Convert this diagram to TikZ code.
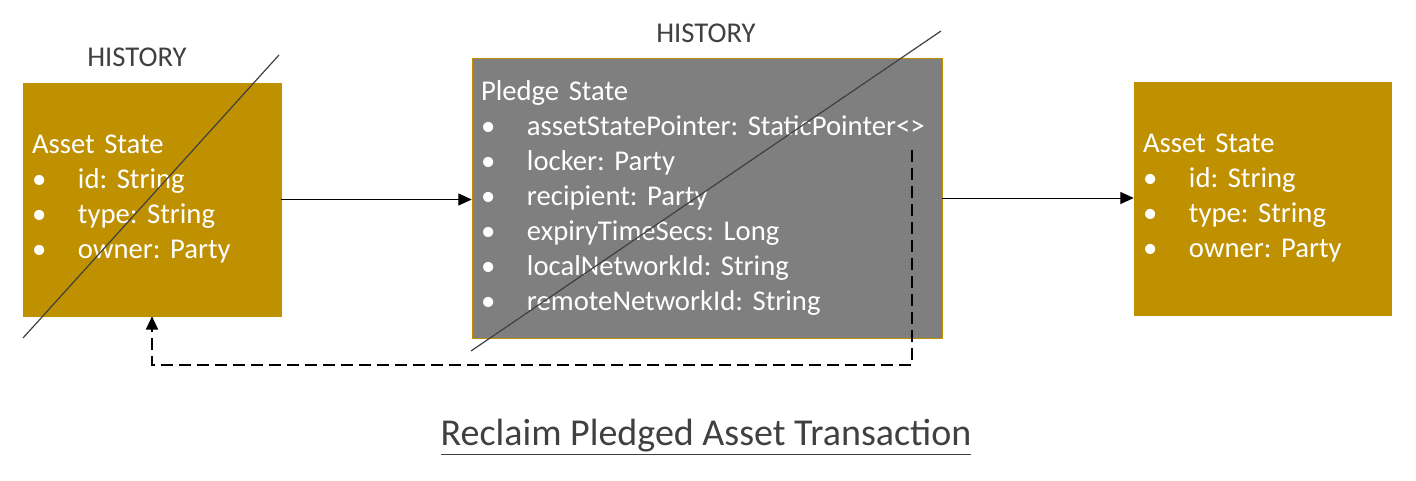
\documentclass[tikz,border=0pt]{standalone}
\usepackage{fontspec}
\setmainfont{Carlito}
\usepackage{xcolor}
\usetikzlibrary{arrows.meta,positioning}
\definecolor{gold}{HTML}{BF9000}
\definecolor{slate}{HTML}{7F7F7F}
\definecolor{inkgray}{HTML}{404040}
\frenchspacing
\newcommand{\itm}[1]{\makebox[34.5pt][l]{\textbullet}#1}
\tikzset{
  statebox/.style={rectangle, draw=gold, fill=gold, text=white, align=left,
    inner xsep=6.75pt, inner ysep=0pt, font=\fontsize{21.5}{26.25}\selectfont},
  histlabel/.style={text=inkgray, inner sep=0.75pt, font=\fontsize{21.5}{24}\selectfont},
  strike/.style={draw=inkgray, line width=0.9pt},
  flow/.style={draw=black, line width=0.75pt, -{Triangle[length=10pt,width=9pt]}},
  backflow/.style={draw=black, line width=1.4pt, dash pattern=on 9pt off 4.5pt,
    -{Triangle[length=10pt,width=9pt]}}
}

\begin{document}
\begin{tikzpicture}[x=0.75pt,y=0.75pt,yscale=-1,xscale=1]
\useasboundingbox (0,0) rectangle (1416,481);

% States
\node (lasset) [statebox, text width=180pt, minimum height=174.75pt] at (152,199.5)
  {Asset State\\ \itm{id: String}\\ \itm{type: String}\\ \itm{owner: Party}};
\node (pledge) [statebox, fill=slate, text width=339pt, minimum height=210pt] at (707,198)
  {Pledge State\\ \itm{assetStatePointer: StaticPointer<>}\\ \itm{locker: Party}\\
   \itm{recipient: Party}\\ \itm{expiryTimeSecs: Long}\\ \itm{localNetworkId: String}\\
   \itm{remoteNetworkId: String}};
\node (rasset) [statebox, text width=179.25pt, minimum height=174.75pt] at (1262.5,198.5)
  {Asset State\\ \itm{id: String}\\ \itm{type: String}\\ \itm{owner: Party}};

% History labels
\node (lhist) [histlabel] at (137,57) {HISTORY};
\node (phist) [histlabel] at (706,33) {HISTORY};

% Struck out
\draw [strike] (23,338) -- (279,55);
\draw [strike] (471,351) -- (941,31);

% Transitions
\draw [flow] (lasset.east) -- (pledge.west |- lasset.east);
\draw [flow] (pledge.east) -- (rasset.west |- pledge.east);

% Pointer back to the old asset
\coordinate (ptr) at (912,150);
\draw [backflow] (ptr) -- (912,365) -| (lasset.south);

% Title
\node (title) [text=inkgray, font=\fontsize{28.5}{32}\selectfont] at (706,437)
  {\underline{Reclaim Pledged Asset Transaction}};

\end{tikzpicture}
\end{document}
